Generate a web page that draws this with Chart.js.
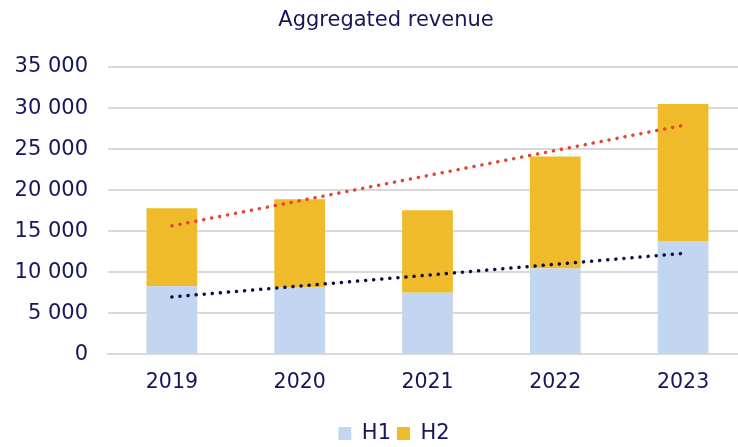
<!DOCTYPE html>
<html>
<head>
<meta charset="utf-8">
<script src="https://cdn.jsdelivr.net/npm/chart.js@4/dist/chart.umd.min.js"></script>
<style>
    html, body { margin: 0; padding: 0; background: #fff; }
    #wrap { width: 738px; height: 447px; }
</style>
</head>
<body>
<div id="wrap"><canvas id="revenueChart"></canvas></div>
<script>
const years = ['2019', '2020', '2021', '2022', '2023'];
const h1 = [8300, 8200, 7500, 10450, 13800];
const h2 = [9500, 10700, 10050, 13650, 16700];
const yTicks = [0, 5000, 10000, 15000, 20000, 25000, 30000, 35000];

const textColor = '#15175a';
const fontFamily = 'DejaVu Sans';

// Linear trend (least squares) over the category index, like a spreadsheet trendline
const trend = (vals) => {
    const n = vals.length;
    const mx = (n - 1) / 2;
    const my = vals.reduce((a, b) => a + b, 0) / n;
    let num = 0, den = 0;
    vals.forEach((v, i) => { num += (i - mx) * (v - my); den += (i - mx) * (i - mx); });
    const slope = num / den;
    return vals.map((v, i) => my + slope * (i - mx));
};

const totals = h1.map((v, i) => v + h2[i]);

const dotted = {
    type: 'line',
    borderWidth: 3.5,
    borderDash: [0.1, 8],
    borderCapStyle: 'round',
    pointRadius: 0,
    fill: false,
    tension: 0
};

// The source plot area runs a little past the right edge of the image,
// and its title/legend sit right of the canvas centre
const layoutTweaks = {
    id: 'layoutTweaks',
    afterLayout(chart) {
        const x = chart.scales.x;
        x.right = x.left + 639;
        x.width = 639;
        x.configure();
        if (chart.legend) {
            chart.legend.left += 25;
            chart.legend.right += 25;
        }
    },
    afterDraw(chart) {
        const ctx = chart.ctx;
        ctx.save();
        ctx.fillStyle = textColor;
        ctx.font = `21px "${fontFamily}"`;
        ctx.textAlign = 'center';
        ctx.textBaseline = 'middle';
        ctx.fillText('Aggregated revenue', 386, 21);
        ctx.restore();
    }
};

new Chart(document.getElementById('revenueChart'), {
    type: 'bar',
    data: {
        labels: years,
        datasets: [
            { label: 'H1', data: h1, backgroundColor: '#c2d5f1', stack: 'rev', order: 2 },
            { label: 'H2', data: h2, backgroundColor: '#efbb2b', stack: 'rev', order: 2 },
            { ...dotted, label: 'trendTotal', data: trend(totals), borderColor: '#e8432c', stack: 't1', order: 1 },
            { ...dotted, label: 'trendH1', data: trend(h1), borderColor: '#0b0b45', stack: 't2', order: 1 }
        ]
    },
    plugins: [layoutTweaks],
    options: {
        responsive: true,
        maintainAspectRatio: false,
        animation: false,
        layout: { padding: { left: 0, right: 0, top: 67, bottom: -7 } },
        datasets: {
            bar: { barPercentage: 0.397, categoryPercentage: 1 }
        },
        plugins: {
            title: { display: false },
            legend: {
                position: 'bottom',
                labels: {
                    color: textColor,
                    font: { family: fontFamily, size: 21 },
                    boxWidth: 13,
                    boxHeight: 13,
                    padding: 6,
                    filter: (item) => item.text === 'H1' || item.text === 'H2'
                }
            },
            tooltip: { enabled: false }
        },
        scales: {
            x: {
                stacked: true,
                grid: { display: false },
                border: { color: '#d9d9d9', width: 2 },
                ticks: {
                    color: textColor,
                    font: { family: fontFamily, size: 20.5 },
                    padding: 8
                },
                afterFit: (axis) => { axis.height += 14; }
            },
            y: {
                stacked: true,
                min: 0,
                max: 35000,
                afterBuildTicks: (axis) => { axis.ticks = yTicks.map(v => ({ value: v })); },
                afterFit: (axis) => { axis.width = 108; },
                grid: { color: '#d9d9d9', lineWidth: 2, drawTicks: false },
                border: { display: false },
                ticks: {
                    color: textColor,
                    font: { family: fontFamily, size: 21 },
                    padding: 20,
                    callback: (v) => v.toString().replace(/\B(?=(\d{3})+(?!\d))/g, ' ')
                }
            }
        }
    }
});
</script>
</body>
</html>
